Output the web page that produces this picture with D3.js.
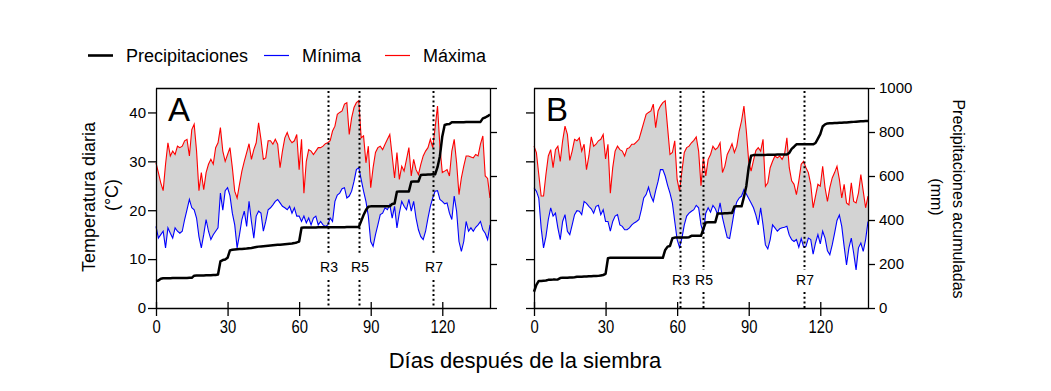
<!DOCTYPE html>
<html><head><meta charset="utf-8">
<script src="https://cdn.jsdelivr.net/npm/d3@7"></script>
<style>
body{margin:0;background:#fff}
svg{display:block}
text{font-family:Arial,"Liberation Sans",sans-serif;fill:#000}
</style>
</head><body>
<svg id="chart" width="1051" height="391"></svg>
<script>
// ---- data (daily values, day = array index 0..140) ----
const tmaxA = [29.7,27.7,25.6,24.0,29.4,33.8,31.1,32.1,31.4,33.1,
32.8,33.1,34.2,34.5,31.1,36.5,37.6,32.1,24.0,27.7,
24.2,27.7,29.4,30.4,29.4,32.8,33.8,36.9,32.1,30.0,
31.4,32.8,28.7,23.9,22.5,25.3,28.0,30.0,31.8,33.6,
30.4,32.4,33.8,37.9,34.5,30.4,30.7,34.2,34.2,33.5,
34.5,33.5,28.7,32.1,34.8,35.9,34.5,33.8,34.2,35.5,
28.3,34.5,23.5,30.0,32.4,32.1,31.4,32.1,32.8,32.8,
33.1,33.6,33.8,34.2,36.2,37.2,39.6,40.0,40.3,41.7,
42.0,35.5,38.9,41.0,42.0,42.4,34.8,35.2,29.7,33.1,
24.6,28.7,31.8,32.8,33.1,32.4,33.5,34.5,35.5,31.1,
26.6,31.8,26.3,29.0,28.0,30.4,32.8,27.0,30.4,28.3,
27.3,29.4,31.1,32.1,32.8,34.5,32.8,36.9,41.3,33.1,
27.7,28.0,28.3,27.0,32.1,34.5,29.7,23.2,26.6,29.0,
31.1,31.1,30.9,30.7,31.4,31.1,33.5,35.2,27.0,26.5,
22.5];
const tminA = [16.7,14.3,15.0,15.7,12.3,16.4,15.3,14.3,16.4,15.7,
15.3,15.7,18.1,20.1,22.2,20.5,20.1,18.4,14.6,12.3,
15.0,18.1,15.7,14.0,15.0,15.7,16.4,23.5,20.0,24.0,
24.6,23.0,19.4,17.0,12.3,15.0,18.1,19.8,16.7,21.8,
17.7,14.3,18.8,19.8,19.4,15.7,17.7,20.1,20.5,21.1,
21.8,22.2,21.5,20.8,20.5,20.1,20.8,19.4,20.5,18.8,
18.8,17.7,18.8,17.4,18.4,17.0,18.4,18.8,17.0,17.7,
17.0,16.7,17.0,18.4,17.7,21.8,23.1,23.5,24.4,24.6,
22.5,22.9,23.9,25.9,28.3,28.7,26.3,23.9,21.8,18.8,
13.6,12.6,15.0,17.0,19.1,19.4,20.5,20.1,21.1,18.4,
20.8,16.4,19.4,21.8,20.8,20.1,22.2,19.8,21.8,18.4,
16.0,14.6,14.0,15.7,18.4,20.8,22.5,23.9,24.0,22.2,
21.8,21.3,21.5,19.4,18.1,22.9,19.8,13.6,11.6,13.6,
17.7,15.7,16.4,15.7,16.5,17.0,17.7,16.0,15.3,14.0,
17.0];
const precipA = [123,125,133,135,135,135,135,136,136,136,
136,136,136,136,137,137,147,148,148,148,
148,149,149,149,150,150,152,212,218,220,
228,262,265,266,267,268,268,269,270,272,
273,275,277,279,280,281,282,283,284,285,
286,287,288,289,290,291,292,293,295,298,
302,365,366,366,366,366,366,366,367,367,
367,367,367,367,367,367,367,367,367,367,
368,368,368,368,368,368,395,423,445,460,
462,462,462,462,462,462,462,462,462,473,
475,529,530,530,530,530,530,574,575,575,
575,605,606,606,607,607,608,608,640,690,
780,832,835,836,844,844,844,844,844,844,
845,845,845,845,845,846,846,862,866,872,
880];
const tmaxB = [33.1,31.8,27.3,22.9,22.9,27.3,31.1,32.4,28.7,32.4,
33.1,30.0,34.2,37.2,35.5,30.2,32.1,34.5,34.2,34.8,
32.1,33.5,28.3,31.1,35.0,33.1,33.5,34.2,34.5,35.5,
30.5,33.5,23.5,28.7,32.1,33.1,32.4,32.1,31.1,32.6,
32.8,33.5,33.5,34.0,34.5,36.2,37.9,39.6,40.0,40.3,
41.7,36.9,40.3,41.3,42.0,42.4,36.9,31.4,31.8,34.2,
26.3,23.9,28.0,31.8,32.8,33.1,33.8,34.3,35.0,32.1,
25.0,30.8,27.0,30.4,31.4,33.1,32.4,32.8,33.8,27.7,
29.0,31.4,32.4,33.6,31.8,33.1,36.2,38.3,41.3,36.2,
30.0,28.0,30.2,32.2,32.8,32.1,34.5,24.9,25.6,28.7,
30.0,31.1,30.7,31.1,30.4,31.4,34.8,28.7,26.0,25.3,
23.2,26.0,29.4,30.0,28.7,27.7,25.3,20.5,22.9,25.3,
24.9,29.0,24.6,21.8,24.6,26.6,27.7,29.0,26.3,22.5,
25.3,21.5,21.1,25.6,21.8,21.5,23.5,27.3,23.9,20.5,
22.9];
const tminB = [24.6,23.9,22.5,16.4,12.3,14.6,18.1,20.5,18.8,19.4,
16.4,14.0,17.7,19.1,15.7,15.0,17.0,19.1,19.9,19.8,
19.1,21.8,21.4,20.8,20.3,19.4,20.8,21.0,19.1,20.1,
17.7,17.7,15.7,17.7,18.8,19.1,17.0,16.7,16.0,16.0,
16.4,17.0,17.4,17.7,18.1,20.1,22.5,23.2,24.7,22.9,
21.8,24.0,25.9,28.3,28.3,27.0,25.1,23.5,21.5,17.7,
14.0,12.4,14.3,17.0,18.8,19.4,19.8,20.1,21.0,20.5,
17.0,15.3,19.4,20.5,19.6,21.0,20.3,19.1,21.5,18.5,
16.4,14.4,14.2,17.0,19.9,21.7,22.5,22.9,24.2,23.3,
22.4,21.5,20.5,19.0,17.0,20.5,17.0,12.9,12.1,14.0,
17.0,16.4,15.7,16.2,16.4,16.5,16.7,14.9,14.0,13.6,
14.0,12.4,14.2,12.5,12.6,14.3,14.0,11.0,13.3,15.0,
13.1,15.7,14.3,11.7,10.9,12.9,15.3,17.9,19.0,16.7,
12.6,8.8,12.3,14.3,11.2,7.8,12.3,13.3,11.6,14.0,
17.7];
const precipB = [74,105,123,123,124,125,128,128,129,129,
130,136,138,138,138,139,139,140,142,142,
142,143,143,144,144,145,145,146,148,150,
155,226,228,228,228,228,228,228,228,228,
228,228,228,228,228,228,228,228,228,228,
228,228,228,228,228,264,279,282,317,320,
320,320,320,320,320,322,328,328,328,328,
328,360,389,390,390,390,390,430,430,430,
431,431,432,432,461,462,462,462,505,555,
640,692,695,695,695,696,696,696,697,697,
697,697,698,698,698,698,698,705,723,733,
744,744,744,744,744,744,744,744,750,770,
790,825,835,839,840,840,841,841,842,842,
843,843,844,845,846,847,848,849,849,850,
850];

const dayTicks = [0,30,60,90,120];
const tempTicks = [0,10,20,30,40];
const precipTicks = [0,200,400,600,800,1000];
const stageLabels = ["R3","R5","R7"];
const stageDaysA = [72,85,116];
const stageDaysB = [61,71,113];
const legendLabels = ["Precipitaciones","Mínima","Máxima"];

// ---- drawing ----
const svg = d3.select("#chart");
const C = {max:"#ff0000", min:"#0000ff", precip:"#000000", fill:"#d3d3d3"};
const TOP = 88, BOT = 308;

function drawPanel(cfg){
  const x = d3.scaleLinear().domain([0,140]).range([cfg.x0,cfg.x1]);
  const yT = d3.scaleLinear().domain([0,45]).range([BOT,TOP]);
  const yP = d3.scaleLinear().domain([0,1000]).range([BOT,TOP]);
  const idx = cfg.tmax.map((d,i)=>i);
  const g = svg.append("g");

  g.append("path").datum(idx)
    .attr("d", d3.area().x(i=>x(i)).y0(i=>yT(cfg.tmin[i])).y1(i=>yT(cfg.tmax[i])))
    .attr("fill", C.fill);
  g.append("path").datum(idx)
    .attr("d", d3.line().x(i=>x(i)).y(i=>yT(cfg.tmax[i])))
    .attr("fill","none").attr("stroke",C.max).attr("stroke-width",1.1);
  g.append("path").datum(idx)
    .attr("d", d3.line().x(i=>x(i)).y(i=>yT(cfg.tmin[i])))
    .attr("fill","none").attr("stroke",C.min).attr("stroke-width",1.1);
  g.append("path").datum(idx)
    .attr("d", d3.line().x(i=>x(i)).y(i=>yP(cfg.precip[i])))
    .attr("fill","none").attr("stroke",C.precip).attr("stroke-width",2.5)
    .attr("stroke-linejoin","round");

  // stage lines
  cfg.stages.forEach((d,k)=>{
    const sx = Math.round(x(d))+0.5;
    [[TOP+3,cfg.gap[0]],[cfg.gap[1],BOT]].forEach(seg=>{
      g.append("line").attr("x1",sx).attr("x2",sx).attr("y1",seg[0]).attr("y2",seg[1])
        .attr("stroke","#000").attr("stroke-width",2).attr("stroke-dasharray","2,2.7");
    });
    g.append("text").attr("x",sx+0.5).attr("y",cfg.labelY).attr("text-anchor","middle")
      .attr("font-size",14).text(stageLabels[k]);
  });

  // top border
  g.append("line").attr("x1",cfg.x0).attr("x2",cfg.x1).attr("y1",TOP+0.5).attr("y2",TOP+0.5)
    .attr("stroke","#000").attr("stroke-width",1.3);

  // left axis
  const la = g.append("g").attr("transform",`translate(${cfg.x0},0)`)
    .call(d3.axisLeft(yT).tickValues(tempTicks).tickSize(8).tickSizeOuter(0).tickPadding(2)
      .tickFormat(cfg.leftLabels ? d3.format("d") : ""));
  // right axis
  const ra = g.append("g").attr("transform",`translate(${cfg.x1},0)`)
    .call(d3.axisRight(yP).tickValues(precipTicks).tickSize(7).tickSizeOuter(0).tickPadding(4)
      .tickFormat(cfg.rightLabels ? d3.format("d") : ""));
  // bottom axis
  const ba = g.append("g").attr("transform",`translate(0,${BOT})`)
    .call(d3.axisBottom(x).tickValues(dayTicks).tickSize(8).tickSizeOuter(0));
  ba.selectAll(".tick line").attr("y1",-6);

  [la,ra,ba].forEach(a=>{
    a.selectAll("path,line").attr("stroke","#000").attr("stroke-width",1.3);
    a.selectAll("text").attr("font-size",15).attr("font-family",'Arial,"Liberation Sans",sans-serif').attr("fill","#000");
  });
  // x tick labels: taller, condensed
  ba.selectAll(".tick text").attr("y",25).attr("dy","0")
    .attr("font-size",18.5).attr("transform","scale(0.8,1)");

  g.append("text").attr("x",cfg.x0+12).attr("y",121).attr("font-size",33).text(cfg.letter);
}

drawPanel({x0:156,x1:490,tmax:tmaxA,tmin:tminA,precip:precipA,stages:stageDaysA,
  gap:[255,280],labelY:272,letter:"A",leftLabels:true,rightLabels:false});
drawPanel({x0:534,x1:868,tmax:tmaxB,tmin:tminB,precip:precipB,stages:stageDaysB,
  gap:[270,292],labelY:284.5,letter:"B",leftLabels:false,rightLabels:true});

// axis titles
svg.append("text").attr("transform","translate(95,197) rotate(-90)")
  .attr("text-anchor","middle").attr("font-size",18).text("Temperatura diaria");
svg.append("text").attr("transform","translate(118,195) rotate(-90)")
  .attr("text-anchor","middle").attr("font-size",18).text("(°C)");
svg.append("text").attr("transform","translate(953,199) rotate(90)")
  .attr("text-anchor","middle").attr("font-size",16).text("Precipitaciones acumuladas");
svg.append("text").attr("transform","translate(931,197) rotate(90)")
  .attr("text-anchor","middle").attr("font-size",16).text("(mm)");
svg.append("text").attr("x",525).attr("y",368).attr("text-anchor","middle")
  .attr("font-size",22).text("Días después de la siembra");

// legend
const legItems = [
  {label:legendLabels[0], color:C.precip, w:2.6, x:88},
  {label:legendLabels[1], color:C.min, w:1.2, x:264},
  {label:legendLabels[2], color:C.max, w:1.2, x:385}
];
const lg = svg.append("g");
legItems.forEach(d=>{
  lg.append("line").attr("x1",d.x).attr("x2",d.x+25).attr("y1",55.5).attr("y2",55.5)
    .attr("stroke",d.color).attr("stroke-width",d.w);
  lg.append("text").attr("x",d.x+38).attr("y",62).attr("font-size",18).text(d.label);
});
</script>
</body></html>
